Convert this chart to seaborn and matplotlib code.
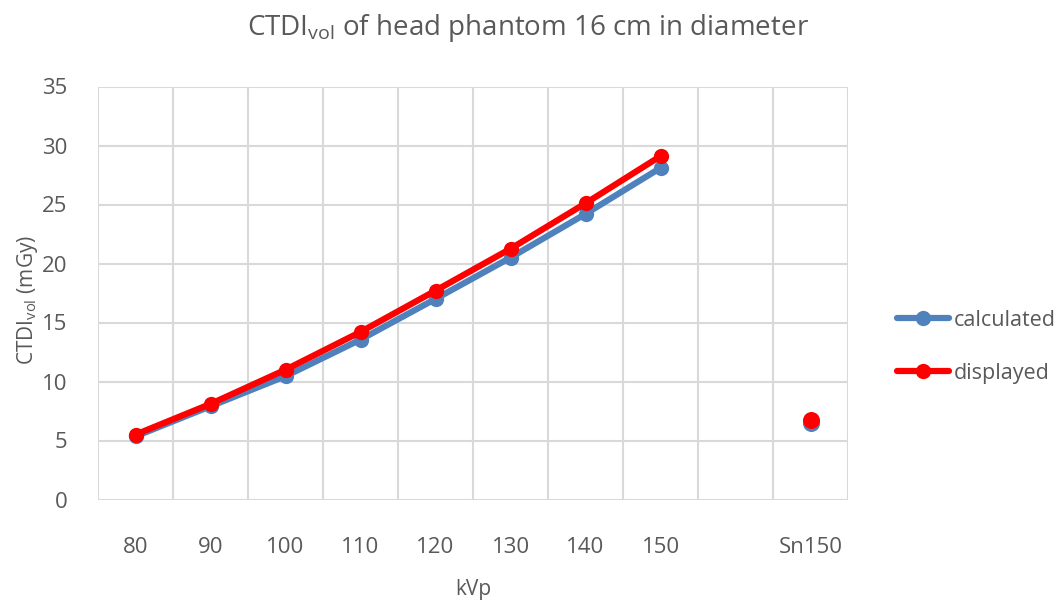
import matplotlib
matplotlib.use("Agg")
import matplotlib.pyplot as plt
import seaborn as sns
import pandas as pd
import numpy as np

categories = ["80", "90", "100", "110", "120", "130", "140", "150", "", "Sn150"]
calculated = [5.35, 7.9, 10.45, 13.55, 17.0, 20.5, 24.2, 28.1, None, 6.45]
displayed = [5.5, 8.1, 11.0, 14.2, 17.7, 21.25, 25.1, 29.1, None, 6.7]

sns.set_theme(style="white")
plt.rcParams['font.family'] = ['Open Sans', 'DejaVu Sans']
plt.rcParams['mathtext.default'] = 'regular'

fig = plt.figure(figsize=(10.57, 6.01), dpi=100)
ax = fig.add_axes([98/1057, (601-499.5)/601, 750/1057, 413/601])

pos = np.arange(len(categories))
rows = []
for name, vals in [("calculated", calculated), ("displayed", displayed)]:
    for p, c, v in zip(pos, categories, vals):
        rows.append({"pos": p, "cat": c, "value": v, "series": name})
df = pd.DataFrame(rows).dropna(subset=["value"])

palette = {"calculated": "#4F81BD", "displayed": "#FF0000"}
main = df[df["pos"] <= 7]
sn = df[df["pos"] == 9]

sns.lineplot(data=main, x="pos", y="value", hue="series", palette=palette,
             linewidth=4.5, marker="o", markersize=11, markeredgewidth=0,
             ax=ax, legend=True, sort=True)
for name in ["calculated", "displayed"]:
    d = sn[sn["series"] == name]
    sns.scatterplot(data=d, x="pos", y="value", color=palette[name], s=150,
                    linewidth=0, ax=ax, legend=False)

ax.set_xlim(-0.5, len(categories) - 0.5)
ax.set_ylim(0, 35)
ax.set_yticks(np.arange(0, 36, 5))
ax.set_xticks(pos)
ax.set_xticklabels(categories)
ax.set_xticks(np.arange(-0.5, len(categories), 1), minor=True)
ax.grid(False)
ax.grid(True, which="minor", axis="x", color="#d9d9d9", linewidth=1.5)
ax.grid(True, which="major", axis="y", color="#d9d9d9", linewidth=1.5)
for s in ax.spines.values():
    s.set_visible(False)
ax.tick_params(axis="both", which="both", length=0, labelsize=16, colors="#595959")
ax.tick_params(axis="x", pad=27)
ax.tick_params(axis="y", pad=22)
ax.set_axisbelow(True)

ax.set_xlabel("kVp", fontsize=15, color="#595959", va="center")
ax.xaxis.set_label_coords(0.5, (499.5 - 590) / 413)
ax.set_ylabel("CTDI$_{vol}$ (mGy)", fontsize=15, color="#595959", va="center")
ax.yaxis.set_label_coords((28 - 98) / 750, (499.5 - 300) / 413)

fig.text(0.5, 1 - 28/601, "CTDI$_{vol}$ of head phantom 16 cm in diameter",
         ha="center", va="center", fontsize=20, color="#595959")

handles, labels = ax.get_legend_handles_labels()
leg = ax.legend(handles, labels, loc="center left", bbox_to_anchor=(1.04, 0.37),
                frameon=False, fontsize=15.5, handlelength=2.4, labelspacing=1.5,
                handletextpad=0.2)
for t in leg.get_texts():
    t.set_color("#595959")

fig.savefig("out.png", dpi=100)
